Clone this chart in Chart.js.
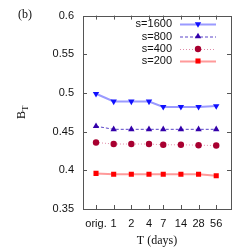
<!DOCTYPE html>
<html><head><meta charset="utf-8">
<script src="https://cdn.jsdelivr.net/npm/chart.js@4/dist/chart.umd.min.js"></script>
<style>html,body{margin:0;padding:0;background:#fff}#w{width:249px;height:249px}</style>
</head><body><div id="w"><canvas id="c"></canvas></div>
<script>
const xLabels = ['orig.', '1', '2', '4', '7', '14', '28', '56'];
const xValues = [0.5, 1, 2, 4, 7, 14, 28, 56];
const s1600 = [0.499, 0.489, 0.489, 0.489, 0.482, 0.482, 0.482, 0.483];
const s800  = [0.457, 0.453, 0.453, 0.453, 0.453, 0.453, 0.453, 0.453];
const s400  = [0.436, 0.434, 0.434, 0.434, 0.433, 0.433, 0.4325, 0.432];
const s200  = [0.396, 0.395, 0.395, 0.395, 0.395, 0.395, 0.395, 0.393];
const yTicks = [0.35, 0.4, 0.45, 0.5, 0.55, 0.6];
const seriesNames = ['s=1600', 's=800', 's=400', 's=200'];

function pts(arr){ return arr.map((v,i)=>({x:xValues[i], y:v})); }

const styles = [
  {line:'#9a9aff', mark:'#1010ff', width:2, dash:[], ps:'triangle', rot:180, r:3.7},
  {line:'#5a44c8', mark:'#3300aa', width:1, dash:[3,2], ps:'triangle', rot:0, r:3.7},
  {line:'#e08aa8', mark:'#a80030', width:1, dash:[1,2], ps:'circle', rot:0, r:3.2},
  {line:'#ff9a9a', mark:'#ff0000', width:2, dash:[], ps:'rect', rot:0, r:3.6}
];
const seriesData = [s1600, s800, s400, s200];

const datasets = seriesData.map((d,i)=>({
  label: seriesNames[i],
  data: pts(d),
  showLine: true,
  borderColor: styles[i].line,
  borderWidth: styles[i].width,
  borderDash: styles[i].dash,
  pointStyle: styles[i].ps,
  pointRotation: styles[i].rot,
  pointRadius: styles[i].r,
  pointBackgroundColor: styles[i].mark,
  pointBorderColor: styles[i].mark,
  pointBorderWidth: 0,
  fill: false
}));

const deco = {
  id: 'deco',
  afterDraw(chart){
    const ctx = chart.ctx, a = chart.chartArea;
    const xs = chart.scales.x, ys = chart.scales.y;
    ctx.save();
    ctx.strokeStyle = '#555';
    ctx.lineWidth = 1;
    ctx.setLineDash([]);
    ctx.strokeRect(Math.round(a.left)+0.5, Math.round(a.top)+0.5, Math.round(a.right-a.left), Math.round(a.bottom-a.top));
    ctx.beginPath();
    xValues.forEach(v=>{
      const px = Math.round(xs.getPixelForValue(v))+0.5;
      ctx.moveTo(px, a.bottom); ctx.lineTo(px, a.bottom-4);
      ctx.moveTo(px, a.top); ctx.lineTo(px, a.top+4);
    });
    yTicks.forEach(v=>{
      const py = Math.round(ys.getPixelForValue(v))+0.5;
      ctx.moveTo(a.left, py); ctx.lineTo(a.left+4, py);
      ctx.moveTo(a.right, py); ctx.lineTo(a.right-4, py);
    });
    ctx.stroke();
    // legend
    ctx.font = '11px "Liberation Sans", Arial, sans-serif';
    ctx.textAlign = 'right';
    ctx.textBaseline = 'middle';
    const rows = [24, 36.5, 49, 61];
    seriesNames.forEach((n,i)=>{
      const y = rows[i];
      ctx.fillStyle = '#111';
      ctx.fillText(n, 172, y);
      ctx.strokeStyle = styles[i].line;
      ctx.lineWidth = styles[i].width;
      ctx.setLineDash(styles[i].dash);
      ctx.beginPath(); ctx.moveTo(180, y+0.5); ctx.lineTo(216, y+0.5); ctx.stroke();
      ctx.setLineDash([]);
      ctx.fillStyle = styles[i].mark;
      ctx.strokeStyle = styles[i].mark;
      ctx.lineWidth = 0.01;
      Chart.helpers.drawPoint(ctx, {pointStyle: styles[i].ps, rotation: styles[i].rot, radius: styles[i].r, borderWidth: 0}, 198, y);
    });
    // titles
    ctx.fillStyle = '#111';
    ctx.font = '12px "Liberation Serif", "Times New Roman", serif';
    ctx.textAlign = 'center';
    ctx.fillText('T (days)', (a.left+a.right)/2, 241);
    ctx.fillText('(b)', 25, 15);
    ctx.save();
    ctx.translate(22, (a.top+a.bottom)/2);
    ctx.rotate(-Math.PI/2);
    ctx.textAlign = 'left';
    const wB = ctx.measureText('B').width;
    ctx.font = '9px "Liberation Serif", "Times New Roman", serif';
    const wT = ctx.measureText('T').width;
    const tot = wB + wT;
    ctx.font = '12px "Liberation Serif", "Times New Roman", serif';
    ctx.fillText('B', -tot/2, 0);
    ctx.font = '9px "Liberation Serif", "Times New Roman", serif';
    ctx.fillText('T', -tot/2 + wB, 4);
    ctx.restore();
    ctx.restore();
  }
};

new Chart(document.getElementById('c'), {
  type: 'scatter',
  data: { datasets },
  options: {
    responsive: true,
    maintainAspectRatio: false,
    animation: false,
    layout: { padding: { left: 0, top: 15, right: 18, bottom: 0 } },
    plugins: { legend: { display: false }, tooltip: { enabled: false } },
    scales: {
      x: {
        type: 'logarithmic',
        min: 0.3, max: 100,
        grid: { display: false, drawTicks: false },
        border: { display: false },
        afterBuildTicks(s){ s.ticks = xValues.map(v=>({value:v})); },
        afterFit(s){ s.height = 40; },
        ticks: {
          autoSkip: false, maxRotation: 0, minRotation: 0, padding: 8,
          color: '#111',
          font: { family: '"Liberation Sans", Arial, sans-serif', size: 11 },
          callback: (v, i) => xLabels[i]
        }
      },
      y: {
        min: 0.35, max: 0.6,
        grid: { display: false, drawTicks: false },
        border: { display: false },
        afterBuildTicks(s){ s.ticks = yTicks.map(v=>({value:v})); },
        afterFit(s){ s.width = 83; },
        ticks: {
          padding: 9, color: '#111',
          font: { family: '"Liberation Sans", Arial, sans-serif', size: 11 },
          callback: v => String(Math.round(v*100)/100)
        }
      }
    }
  },
  plugins: [deco]
});
</script>
</body></html>
